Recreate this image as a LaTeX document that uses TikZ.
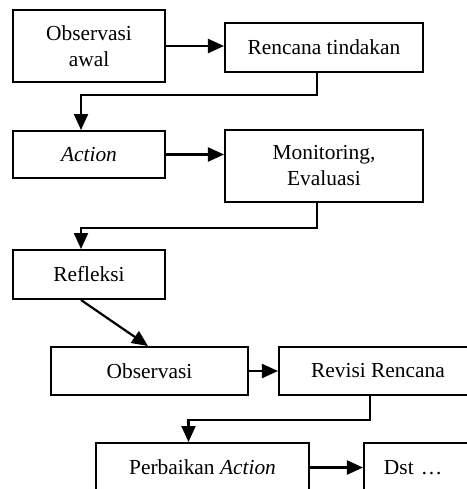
\documentclass[tikz,border=0pt]{standalone}
\usepackage{fontspec}
\setmainfont{Liberation Serif}
\usetikzlibrary{arrows.meta}

\begin{document}
\begin{tikzpicture}[x=0.5pt, y=-0.5pt,
  box/.style = {draw, line width=1pt, align=center, inner sep=0pt,
    font=\fontsize{10.7}{13}\selectfont, minimum width=#1},
  box/.default = 76pt,
  arr/.style = {-{Triangle[length=8pt,width=7pt]}, line width=1.1pt}]
  \useasboundingbox (0,0) rectangle (467,489);
  \clip (0,0) rectangle (467,489);
  \node[box, minimum height=36pt] (obsawal) at (89,46) {Observasi\\awal};
  \node[box=99pt, minimum height=24.5pt] (rencana) at (324,47.5) {Rencana tindakan};
  \node[box, minimum height=23.5pt] (action) at (89,154.5) {\textit{Action}};
  \node[box=99pt, minimum height=36pt] (monev) at (324,166) {Monitoring,\\Evaluasi};
  \node[box, minimum height=24.5pt] (refleksi) at (89,274.5) {Refleksi};
  \node[box=98.5pt, minimum height=24pt] (observasi) at (149.5,371) {Observasi};
  \node[box=99pt, minimum height=24pt] (revisi) at (378,371) {Revisi Rencana};
  \node[box=106.5pt, minimum height=24.5pt] (perbaikan) at (202.5,467.5) {Perbaikan \textit{Action}};
  \node[box, align=left, text width=79pt, inner xsep=10pt, minimum height=24.5pt,
    anchor=west] (dst) at (363,467.5) {Dst \dots};
  \draw[arr] (obsawal.east) -- (obsawal.east -| rencana.west);
  \draw[arr] ([xshift=-3.5pt]rencana.south) -- ++(0,22) -| ([xshift=-4pt]action.north);
  \draw[arr] (action.east) -- (action.east -| monev.west);
  \draw[arr] ([xshift=-3.5pt]monev.south) -- ++(0,25) -| ([xshift=-4pt]refleksi.north);
  \draw[arr] ([xshift=-4pt]refleksi.south) -- ([xshift=-0.75pt]observasi.north);
  \draw[arr] (observasi.east) -- (revisi.west);
  \draw[arr] ([xshift=-4pt]revisi.south) -- ++(0,24) -| ([xshift=-7pt]perbaikan.north);
  \draw[arr] (perbaikan.east) -- (perbaikan.east -| dst.west);
\end{tikzpicture}
\end{document}
